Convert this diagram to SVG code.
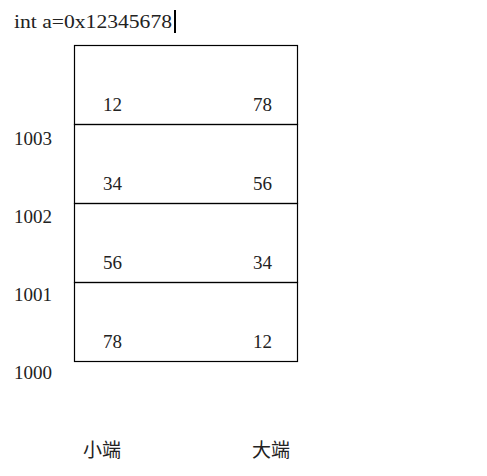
<svg xmlns="http://www.w3.org/2000/svg" width="487" height="476" viewBox="0 0 487 476">
<style>
text{font-family:"Liberation Serif","Noto Sans CJK SC",serif;font-size:19px;fill:#222}
.cell{fill:none;stroke:#000;stroke-width:1.2}
</style>
<rect width="487" height="476" fill="#fff"/>
<text x="14" y="28" textLength="158" lengthAdjust="spacingAndGlyphs">int a=0x12345678</text>
<line x1="175" y1="10" x2="175" y2="33" stroke="#000" stroke-width="2"/>
<g id="cell3"><rect class="cell" x="74.5" y="45.5" width="223" height="79"/><text x="103" y="111">12</text><text x="253" y="111">78</text></g>
<g id="cell2"><rect class="cell" x="74.5" y="124.5" width="223" height="79"/><text x="103" y="190">34</text><text x="253" y="190">56</text></g>
<g id="cell1"><rect class="cell" x="74.5" y="203.5" width="223" height="79"/><text x="103" y="269">56</text><text x="253" y="269">34</text></g>
<g id="cell0"><rect class="cell" x="74.5" y="282.5" width="223" height="79"/><text x="103" y="348">78</text><text x="253" y="348">12</text></g>
<g id="addr"><text x="14" y="145">1003</text><text x="14" y="223">1002</text><text x="14" y="301">1001</text><text x="14" y="379">1000</text></g>
<g id="legend"><text x="83" y="457">小端</text><text x="252" y="457">大端</text></g>
<g id="connectors"/>
</svg>
